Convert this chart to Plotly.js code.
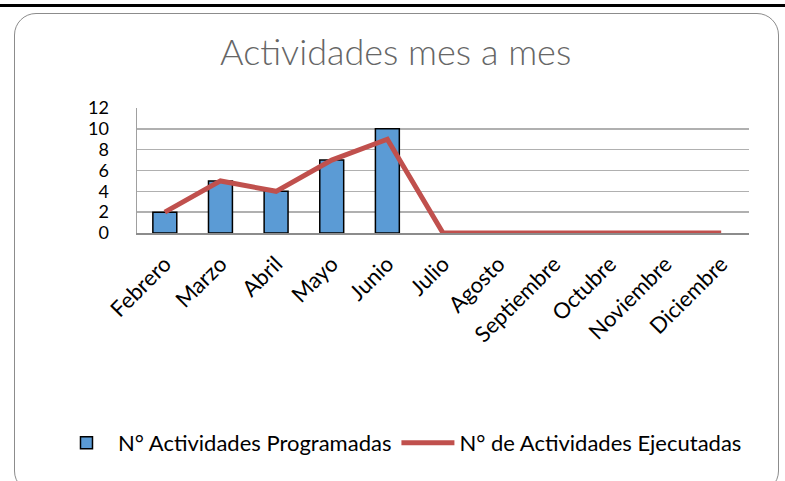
<!DOCTYPE html>
<html>
<head>
<meta charset="utf-8">
<script src="https://cdn.plot.ly/plotly-3.0.1.min.js"></script>
<style>
  html, body { margin: 0; padding: 0; background: #fff; }
  #wrap { position: relative; width: 785px; height: 481px; overflow: hidden; }
  #topline { position: absolute; left: 0; top: 4px; width: 785px; height: 3px; background: #000; }
  #frame { position: absolute; left: 14px; top: 13px; width: 765px; height: 480px;
           border: 1.5px solid #8c8c8c; border-radius: 22px; box-sizing: border-box; }
  #chart { position: absolute; left: 0; top: 0; width: 785px; height: 481px; }
</style>
</head>
<body>
<div id="wrap">
  <div id="topline"></div>
  <div id="frame"></div>
  <div id="chart"></div>
</div>
<script>
const meses = ["Febrero", "Marzo", "Abril", "Mayo", "Junio", "Julio", "Agosto", "Septiembre", "Octubre", "Noviembre", "Diciembre"];
const programadas = [2, 5, 4, 7, 10, null, null, null, null, null, null];
const ejecutadas = [2, 5, 4, 7, 9, 0, 0, 0, 0, 0, 0];
const yTicks = [0, 2, 4, 6, 8, 10, 12];

const FONT = "Lato, 'Open Sans', sans-serif";

const traces = [
  {
    type: "bar",
    x: meses,
    y: programadas,
    name: "N° Actividades Programadas",
    width: 0.43,
    marker: { color: "#5B9BD5", line: { color: "#000000", width: 1.5 } },
    hoverinfo: "skip"
  },
  {
    type: "scatter",
    mode: "lines",
    x: meses,
    y: ejecutadas,
    name: "N° de Actividades Ejecutadas",
    line: { color: "#C0504D", width: 5 },
    hoverinfo: "skip"
  }
];

const layout = {
  width: 785,
  height: 481,
  paper_bgcolor: "rgba(0,0,0,0)",
  plot_bgcolor: "rgba(0,0,0,0)",
  margin: { l: 137, r: 36, t: 108, b: 247.5 },
  showlegend: true,
  title: {
    text: "Actividades mes a mes",
    font: { family: FONT, size: 36, color: "#666666", weight: 300 },
    x: 0.504, xanchor: "center",
    y: 0.891, yanchor: "middle"
  },
  xaxis: {
    type: "category",
    tickangle: -45,
    tickfont: { family: FONT, size: 22, color: "#000" },
    showgrid: false,
    showline: true,
    linecolor: "#8c8c8c",
    linewidth: 1.5,
    ticks: "",
    ticklabelstandoff: 8,
    fixedrange: true
  },
  yaxis: {
    range: [0, 12],
    tickvals: yTicks,
    ticktext: yTicks.map(String),
    tickfont: { family: FONT, size: 18, color: "#000" },
    showgrid: true,
    gridcolor: "#b0b0b0",
    gridwidth: 1.5,
    zeroline: false,
    showline: true,
    linecolor: "#a0a0a0",
    linewidth: 1.5,
    ticks: "",
    ticklabelstandoff: 23,
    fixedrange: true
  },
  legend: {
    orientation: "h",
    x: -0.134, xanchor: "left",
    y: -1.68, yanchor: "middle",
    font: { family: FONT, size: 22, color: "#000" },
    itemwidth: 53,
    tracegroupgap: 0,
    bgcolor: "rgba(0,0,0,0)"
  },
  bargap: 0.57
};

Plotly.newPlot("chart", traces, layout, { displayModeBar: false, staticPlot: true });
</script>
</body>
</html>
